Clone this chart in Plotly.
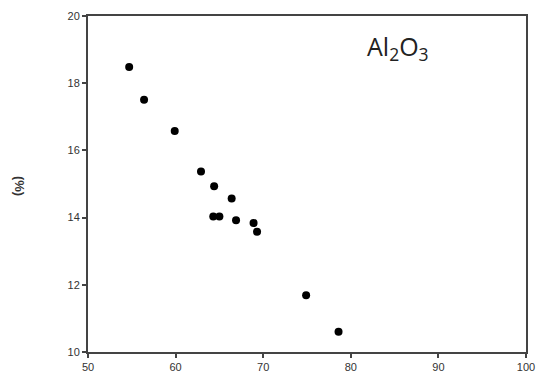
import plotly.graph_objects as go

sio2 = [54.7, 56.4, 59.9, 62.9, 64.4, 66.4, 64.3, 65.0, 66.9, 68.9, 69.3, 74.9, 78.6]
al2o3 = [18.48, 17.51, 16.58, 15.37, 14.93, 14.57, 14.03, 14.03, 13.92, 13.84, 13.58, 11.69, 10.60]
x_ticks = [50, 60, 70, 80, 90, 100]
y_ticks = [10, 12, 14, 16, 18, 20]

fig = go.Figure()
fig.add_trace(go.Scatter(
    x=sio2, y=al2o3, mode="markers",
    marker=dict(color="black", size=8, symbol="circle"),
    showlegend=False,
))

axis_common = dict(
    showline=True, linecolor="#444444", linewidth=2, mirror=True,
    ticks="outside", ticklen=4, tickwidth=1.5, tickcolor="#444444",
    showgrid=False, zeroline=False, automargin=False,
    tickfont=dict(family="Liberation Sans, Arial", size=11, color="#333333"),
)

fig.update_xaxes(range=[50, 100], tickvals=x_ticks, **axis_common)
fig.update_yaxes(range=[10, 20], tickvals=y_ticks, **axis_common)

fig.add_annotation(
    x=-0.155, y=0.494, xref="paper", yref="paper",
    text="<b>(%)</b>", showarrow=False, textangle=90,
    font=dict(family="Liberation Sans, Arial", size=13, color="#333333"),
    xanchor="center", yanchor="middle",
)

fig.add_annotation(
    x=0.708, y=0.905, xref="paper", yref="paper",
    text="Al<sub>2</sub>O<sub>3</sub>", showarrow=False,
    font=dict(family="Open Sans, Noto Sans", size=25, color="#222222"),
    xanchor="center", yanchor="middle",
)

fig.update_layout(
    width=546, height=381,
    margin=dict(l=88, r=20, t=16, b=29),
    plot_bgcolor="white", paper_bgcolor="white",
)

fig.write_html("out.html", config={"displayModeBar": False},
               post_script="document.body.style.margin='0';")
